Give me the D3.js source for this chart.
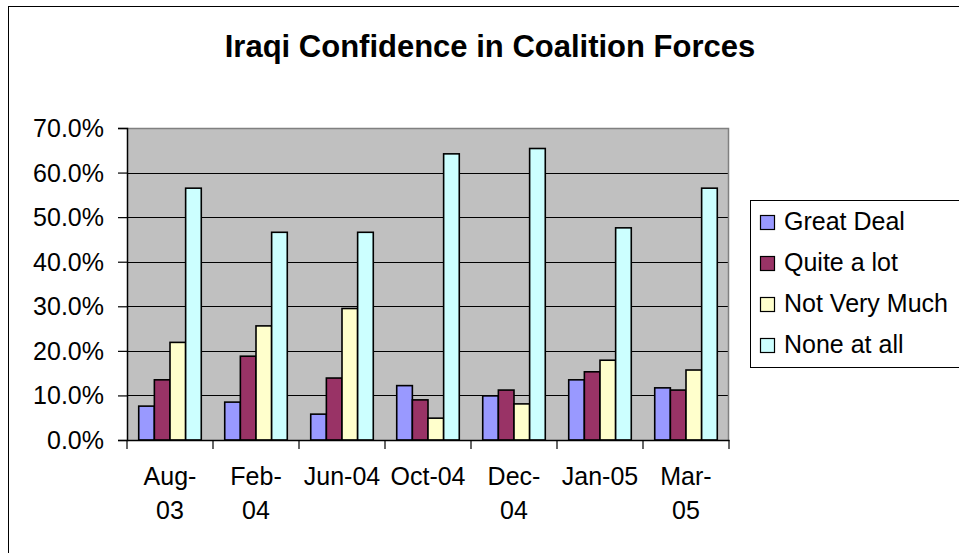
<!DOCTYPE html>
<html>
<head>
<meta charset="utf-8">
<script src="https://cdn.jsdelivr.net/npm/d3@7"></script>
<style>
  html, body { margin: 0; padding: 0; background: #fff; }
  svg { display: block; font-family: Arial, "Liberation Sans", sans-serif; }
</style>
</head>
<body>
<svg id="chart" width="959" height="553"></svg>
<script>
const title = "Iraqi Confidence in Coalition Forces";
const categories = ["Aug-03", "Feb-04", "Jun-04", "Oct-04", "Dec-04", "Jan-05", "Mar-05"];
const seriesNames = ["Great Deal", "Quite a lot", "Not Very Much", "None at all"];
const greatDeal   = [0.076, 0.085, 0.058, 0.122, 0.099, 0.135, 0.117];
const quiteALot   = [0.135, 0.188, 0.139, 0.090, 0.112, 0.153, 0.112];
const notVeryMuch = [0.219, 0.256, 0.295, 0.049, 0.081, 0.179, 0.157];
const noneAtAll   = [0.565, 0.466, 0.466, 0.642, 0.654, 0.476, 0.565];
const yTicks = [0, 0.1, 0.2, 0.3, 0.4, 0.5, 0.6, 0.7];
const colors = ["#9999FF", "#993366", "#FFFFCC", "#CCFFFF"];

const seriesValues = [greatDeal, quiteALot, notVeryMuch, noneAtAll];

const svg = d3.select("#chart");
const plot = { left: 127, right: 729, top: 128, bottom: 440 };

// chart area frame
svg.append("rect")
  .attr("x", 8.5).attr("y", 6.5)
  .attr("width", 1100).attr("height", 1100)
  .attr("fill", "#fff").attr("stroke", "#000").attr("stroke-width", 1);

// title
svg.append("text")
  .attr("x", 490).attr("y", 57)
  .attr("text-anchor", "middle")
  .attr("font-size", 31).attr("font-weight", "bold")
  .attr("fill", "#000")
  .text(title);

const x = d3.scaleBand().domain(categories).range([plot.left, plot.right]).paddingInner(0).paddingOuter(0);
const xs = d3.scaleBand().domain(seriesNames).range([0, x.bandwidth()]).paddingInner(0).paddingOuter(0.75);
const y = d3.scaleLinear().domain([0, 0.7]).range([plot.bottom, plot.top]);

// plot background
svg.append("rect")
  .attr("x", plot.left).attr("y", plot.top)
  .attr("width", plot.right - plot.left).attr("height", plot.bottom - plot.top)
  .attr("fill", "#C0C0C0");

// grid lines
svg.append("g").selectAll("line")
  .data(yTicks.filter(t => t > 0 && t < 0.7))
  .join("line")
  .attr("x1", plot.left).attr("x2", plot.right)
  .attr("y1", d => Math.round(y(d)) + 0.5).attr("y2", d => Math.round(y(d)) + 0.5)
  .attr("stroke", "#000").attr("stroke-width", 1);

// plot border top/right
svg.append("path")
  .attr("d", `M${plot.left},${plot.top + 0.5}H${plot.right - 0.5}V${plot.bottom}`)
  .attr("fill", "none").attr("stroke", "#808080").attr("stroke-width", 1.5);

// bars
const groups = svg.append("g").selectAll("g")
  .data(categories)
  .join("g")
  .attr("transform", d => `translate(${x(d)},0)`);

groups.selectAll("rect")
  .data((c, i) => seriesNames.map((s, j) => ({ s, j, v: seriesValues[j][i] })))
  .join("rect")
  .attr("x", d => xs(d.s))
  .attr("width", xs.bandwidth())
  .attr("y", d => y(d.v))
  .attr("height", d => y(0) - y(d.v))
  .attr("fill", d => colors[d.j])
  .attr("stroke", "#000").attr("stroke-width", 1.6);

// y axis
const yAxis = d3.axisLeft(y).tickValues(yTicks).tickFormat(d3.format(".1%")).tickSize(9).tickPadding(14);
const yg = svg.append("g").attr("transform", `translate(${plot.left},0)`).call(yAxis);
yg.select(".domain").attr("stroke", "#000").attr("stroke-width", 1.5);
yg.selectAll(".tick line").attr("stroke", "#000").attr("stroke-width", 1.2);
yg.selectAll(".tick text")
  .attr("font-size", 25).attr("font-family", "Arial, 'Liberation Sans', sans-serif")
  .attr("fill", "#000").attr("dy", "0.34em");

// x axis
const xAxis = d3.axisBottom(x).tickSize(0).tickFormat("");
const xg = svg.append("g").attr("transform", `translate(0,${plot.bottom})`).call(xAxis);
xg.select(".domain").attr("stroke", "#000").attr("stroke-width", 1.5);
xg.selectAll(".tick").remove();
// category boundary tick marks
const bounds = categories.map(c => x(c)).concat([x(categories[categories.length - 1]) + x.bandwidth()]);
xg.selectAll("line.sep").data(bounds).join("line").attr("class", "sep")
  .attr("x1", d => d).attr("x2", d => d)
  .attr("y1", 0).attr("y2", 9)
  .attr("stroke", "#000").attr("stroke-width", 1.2);

// category labels with wrapping
const labelG = svg.append("g");
categories.forEach(c => {
  const cx = x(c) + x.bandwidth() / 2;
  const t = labelG.append("text")
    .attr("x", cx).attr("y", 485)
    .attr("text-anchor", "middle")
    .attr("font-size", 25).attr("fill", "#000")
    .text(c);
  if (t.node().getComputedTextLength() > 78) {
    const idx = c.indexOf("-");
    t.text(null);
    t.append("tspan").attr("x", cx).attr("y", 485).text(c.slice(0, idx + 1));
    t.append("tspan").attr("x", cx).attr("y", 519).text(c.slice(idx + 1));
  }
});

// legend
const lg = svg.append("g");
lg.append("rect")
  .attr("x", 750.5).attr("y", 200.5)
  .attr("width", 300).attr("height", 167)
  .attr("fill", "#fff").attr("stroke", "#000").attr("stroke-width", 1);
seriesNames.forEach((s, i) => {
  const base = 230 + i * 41;
  lg.append("rect")
    .attr("x", 760.5).attr("y", base - 14.5)
    .attr("width", 14).attr("height", 14)
    .attr("fill", colors[i]).attr("stroke", "#000").attr("stroke-width", 1.2);
  lg.append("text")
    .attr("x", 784).attr("y", base)
    .attr("font-size", 25).attr("fill", "#000")
    .text(s);
});
</script>
</body>
</html>
